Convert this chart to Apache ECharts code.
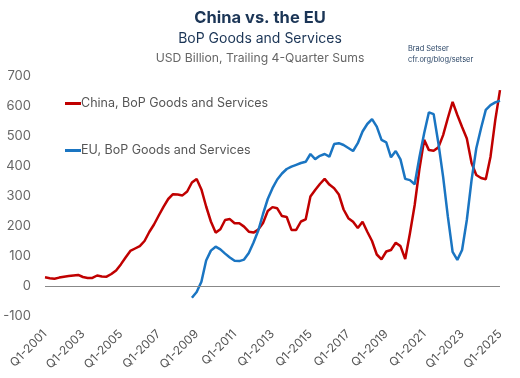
<!DOCTYPE html>
<html><head><meta charset="utf-8">
<script src="https://cdn.jsdelivr.net/npm/echarts@6/dist/echarts.min.js"></script>
<style>html,body{margin:0;padding:0;background:#fff}#c{width:520px;height:378px}</style>
</head><body><div id="c"></div>
<script>
const startYear = 2001, endYear = 2025;
const categories = [];
for (let y = startYear; y <= endYear; y++) {
  for (let q = 1; q <= 4; q++) {
    if (y === endYear && q > 1) break;
    categories.push('Q' + q + '-' + y);
  }
}
const chinaValues = [29,26,24,28,31,33,35,37,30,27,27,35,32,31,40,52,72,95,117,125,133,150,180,205,235,264,290,306,305,302,315,345,357,322,265,215,178,189,220,223,209,209,198,181,178,188,210,250,263,259,233,230,187,187,215,222,298,320,340,357,338,326,305,255,226,214,193,214,181,150,105,89,115,120,144,133,90,176,270,390,487,453,451,462,503,560,614,570,530,492,410,370,360,356,431,553,653];
const euValues = [null,null,null,null,null,null,null,null,null,null,null,null,null,null,null,null,null,null,null,null,null,null,null,null,null,null,null,null,null,null,null,
  -39,-20,14,85,118,131,122,108,95,84,83,88,110,145,185,240,290,326,355,375,390,398,404,410,414,440,423,434,440,431,473,476,470,460,450,476,515,540,556,531,487,479,429,450,422,357,353,339,429,509,579,573,476,364,231,114,87,120,220,353,459,526,587,603,612,618];
const yTicks = [-100,0,100,200,300,400,500,600,700];
const seriesNames = ['China, BoP Goods and Services','EU, BoP Goods and Services'];

const font = 'Inter, "Open Sans", sans-serif';
const chart = echarts.init(document.getElementById('c'));
chart.setOption({
  animation: false,
  title: [
    {text: 'China vs. the EU', left: 'center', top: 5, textStyle: {fontFamily: font, fontSize: 16.5, fontWeight: 'bold', color: '#1b3556'}},
    {text: 'BoP Goods and Services', left: 'center', top: 27, textStyle: {fontFamily: font, fontSize: 14, fontWeight: 'normal', color: '#1b3556'}},
    {text: 'USD Billion, Trailing 4-Quarter Sums', left: 'center', top: 47, textStyle: {fontFamily: font, fontSize: 12.2, fontWeight: 'normal', color: '#666'}},
    {text: 'Brad Setser\ncfr.org/blog/setser', left: 403, top: 38, textStyle: {fontFamily: font, fontSize: 7.4, fontWeight: 'normal', color: '#2a4566', lineHeight: 11}}
  ],
  legend: [
    {data: [seriesNames[0]], left: 60, top: 92, icon: 'rect', itemWidth: 16, itemHeight: 3, itemGap: 2,
     textStyle: {fontFamily: font, fontSize: 12.5, color: '#555', padding: [0,0,0,-5]}},
    {data: [seriesNames[1]], left: 60, top: 139, icon: 'rect', itemWidth: 16, itemHeight: 3, itemGap: 2,
     textStyle: {fontFamily: font, fontSize: 12.5, color: '#555', padding: [0,0,0,-5]}}
  ],
  grid: {left: 45, right: 20, top: 76, bottom: 62},
  xAxis: {
    type: 'category', data: categories, boundaryGap: false,
    axisLine: {show: false}, axisTick: {show: false},
    axisLabel: {interval: 7, rotate: 45, fontFamily: font, fontSize: 12, color: '#555', margin: 16}
  },
  yAxis: {
    type: 'value', min: yTicks[0], max: yTicks[yTicks.length-1], interval: 100,
    splitLine: {show: false}, axisLine: {show: false}, axisTick: {show: false},
    axisLabel: {fontFamily: font, fontSize: 13, color: '#666', margin: 14}
  },
  series: [
    {name: seriesNames[0], type: 'line', data: chinaValues, symbol: 'none', smooth: false,
     lineStyle: {color: '#c00000', width: 2.5}, itemStyle: {color: '#c00000'},
     markLine: {silent: true, symbol: 'none', label: {show: false}, lineStyle: {color: '#888', width: 1, type: 'solid'}, data: [{yAxis: 0}]}},
    {name: seriesNames[1], type: 'line', data: euValues, symbol: 'none', smooth: false,
     lineStyle: {color: '#1a75c2', width: 2.5}, itemStyle: {color: '#1a75c2'}}
  ]
});
</script></body></html>
